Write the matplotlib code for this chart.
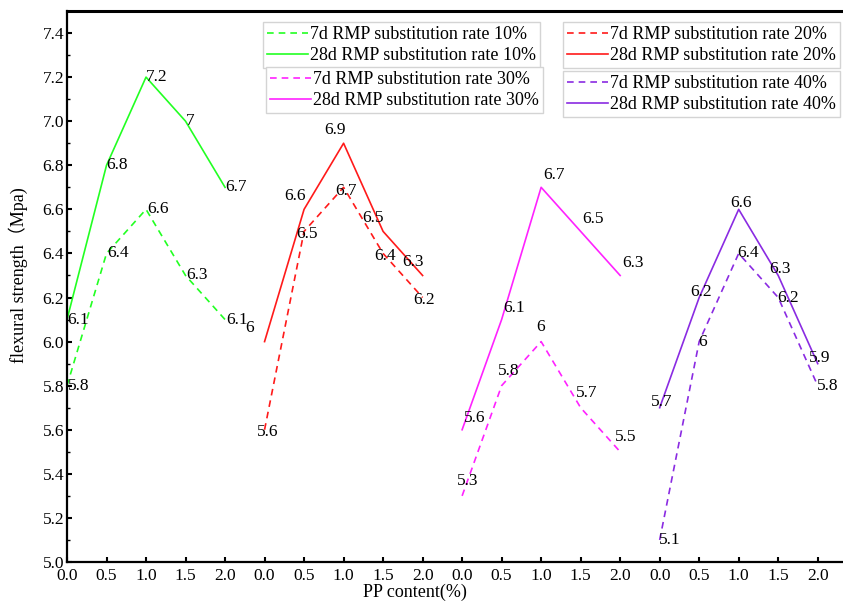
import matplotlib
matplotlib.use("Agg")
import matplotlib.pyplot as plt
from matplotlib.ticker import MultipleLocator, FixedLocator

plt.rcParams['font.family'] = ['Liberation Serif', 'Noto Sans CJK SC', 'DejaVu Sans']

# PP fibre content and flexural strength (MPa) for each RMP substitution rate
pp_content = [0.0, 0.5, 1.0, 1.5, 2.0]
rates = ['10%', '20%', '30%', '40%']
strength_7d = {
    '10%': [5.8, 6.4, 6.6, 6.3, 6.1],
    '20%': [5.6, 6.5, 6.7, 6.4, 6.2],
    '30%': [5.3, 5.8, 6.0, 5.7, 5.5],
    '40%': [5.1, 6.0, 6.4, 6.2, 5.8],
}
strength_28d = {
    '10%': [6.1, 6.8, 7.2, 7.0, 6.7],
    '20%': [6.0, 6.6, 6.9, 6.5, 6.3],
    '30%': [5.6, 6.1, 6.7, 6.5, 6.3],
    '40%': [5.7, 6.2, 6.6, 6.3, 5.9],
}
tick_labels = ['0.0', '0.5', '1.0', '1.5', '2.0']

colors = {'10%': '#22ff22', '20%': '#ff1a1a', '30%': '#ff22ff', '40%': '#8a2be2'}
group_gap = 2.5

# value label placement: (dx px, dy px, ha) per point
label_style_7d = {
    '10%': [(1, 0, 'left')] * 5,
    '20%': [(3, -2, 'center'), (-8, -3, 'left'), (-8, -4, 'left'),
            (-9, -3, 'left'), (-9, -2, 'left')],
    '30%': [(-5, 15, 'left'), (-4, 15, 'left'), (-1, 15, 'center'),
            (-5, 15, 'left'), (-5, 15, 'left')],
    '40%': [(-1, 0, 'left')] * 5,
}
label_style_28d = {
    '10%': [(0, 0, 'left')] * 5,
    '20%': [(-19, 14, 'left'), (2, 13, 'right'), (-9, 13, 'center'),
            (1, 13, 'right'), (1, 13, 'right')],
    '30%': [(2, 12, 'left')] * 5,
    '40%': [(2, 6, 'center')] * 5,
}

fig = plt.figure(figsize=(8.43, 6.01), dpi=100)
W, H = 843, 601
ax = fig.add_axes([67 / W, 1 - 562 / H, 1 - 67 / W, (562 - 11) / H])

handles = {}
for i, r in enumerate(rates):
    xs = [p + i * group_gap for p in pp_content]
    l7, = ax.plot(xs, strength_7d[r], color=colors[r], lw=1.2,
                  linestyle=(0, (4, 3)))
    l28, = ax.plot(xs, strength_28d[r], color=colors[r], lw=1.2)
    handles[r] = (l7, l28)
    for vals, style in ((strength_7d[r], label_style_7d[r]),
                        (strength_28d[r], label_style_28d[r])):
        for x, v, (dx, dy, ha) in zip(xs, vals, style):
            ax.annotate(f'{v:g}', (x, v), xytext=(dx, dy),
                        textcoords='offset pixels', ha=ha, va='center',
                        fontsize=12.5, color='black')

ax.set_xlim(0, 9.82)
ax.set_ylim(5.0, 7.5)

xticks = [p + i * group_gap for i in range(len(rates)) for p in pp_content]
ax.xaxis.set_major_locator(FixedLocator(xticks))
ax.set_xticklabels(tick_labels * len(rates))
ax.yaxis.set_major_locator(FixedLocator([5.0 + 0.2 * k for k in range(13)]))
ax.yaxis.set_minor_locator(MultipleLocator(0.1))
ax.set_yticklabels([f'{5.0 + 0.2 * k:.1f}' for k in range(13)])

ax.tick_params(axis='both', which='major', direction='in', length=3.5,
               width=1.5, labelsize=12.5, pad=2)
ax.tick_params(axis='x', which='major', pad=4)
ax.tick_params(axis='y', which='minor', direction='in', length=2, width=1)
ax.tick_params(axis='x', which='minor', bottom=False)

ax.spines['right'].set_visible(False)
for s in ('left', 'bottom'):
    ax.spines[s].set_linewidth(1.6)
ax.spines['top'].set_linewidth(2.2)

ax.set_xlabel('PP content(%)', fontsize=13, labelpad=1)
ax.xaxis.set_label_coords((415 - 67) / (W - 67), -0.039)
ax.set_ylabel('flexural strength（Mpa)', fontsize=13)
ax.yaxis.set_label_coords(-0.05, 0.52)

# four separate legend boxes
legend_pos = {'10%': (263, 22), '20%': (563, 22), '30%': (266, 67), '40%': (563, 71)}
legends = []
for r in rates:
    x0, y0 = legend_pos[r]
    leg = ax.legend(handles[r],
                    [f'7d RMP substitution rate {r}', f'28d RMP substitution rate {r}'],
                    loc='upper left', bbox_to_anchor=(x0 / W, 1 - y0 / H),
                    bbox_transform=fig.transFigure, borderaxespad=0,
                    fontsize=13, handlelength=2.25, handletextpad=0.15,
                    labelspacing=0.22, borderpad=0.22, fancybox=False,
                    framealpha=1, edgecolor='#d4d4d4')
    leg.get_frame().set_linewidth(1.0)
    legends.append(leg)
for leg in legends[:-1]:
    ax.add_artist(leg)

fig.savefig('out.png', dpi=100)
